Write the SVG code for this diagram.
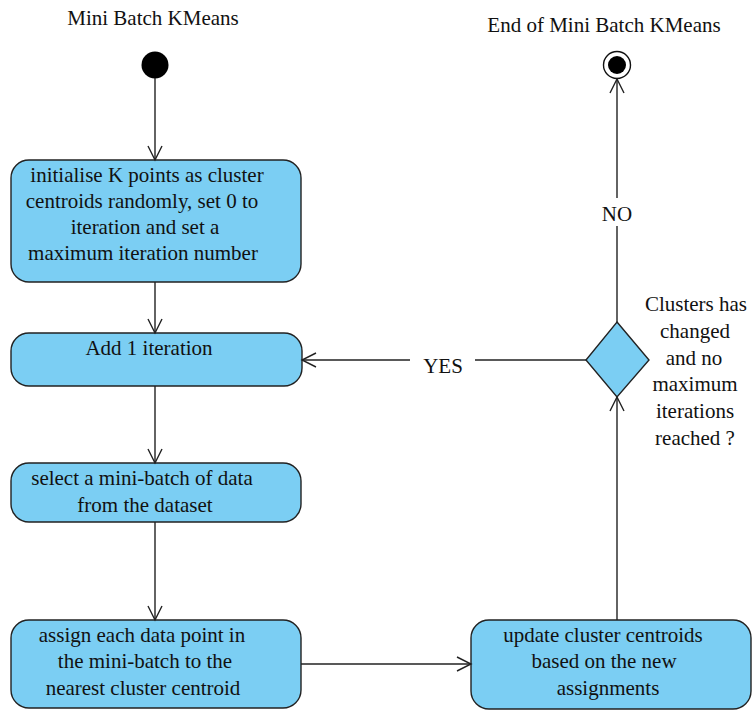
<svg xmlns="http://www.w3.org/2000/svg" width="752" height="711" viewBox="0 0 752 711">
  <defs>
    <style>
      .node { fill: #7bcef3; stroke: #222; stroke-width: 1.4; }
      .edge { fill: none; stroke: #222; stroke-width: 1.4; }
      text { font-family: 'Times New Roman', 'Liberation Serif', Tinos, serif; font-size: 21px; fill: #111; text-anchor: middle; }
    </style>
    <marker id="open-arrow" markerWidth="18" markerHeight="18" refX="15" refY="8" orient="auto" markerUnits="userSpaceOnUse">
      <path d="M1,1 L15,8 L1,15" fill="none" stroke="#222" stroke-width="1.4"/>
    </marker>
  </defs>
  <rect width="752" height="711" fill="#fff"/>

  <!-- start and end states -->
  <g id="start">
    <text x="153" y="25">Mini Batch KMeans</text>
    <circle cx="155" cy="65" r="13.5" fill="#000"/>
  </g>
  <g id="end">
    <text x="604" y="32">End of Mini Batch KMeans</text>
    <circle cx="617" cy="65" r="13.5" fill="#fff" stroke="#111" stroke-width="1.4"/>
    <circle cx="617" cy="65" r="9" fill="#000"/>
  </g>

  <!-- activities -->
  <g id="init">
    <rect class="node" x="11" y="160" width="290" height="122" rx="18"/>
    <text x="147" y="182">initialise K points as cluster</text>
    <text x="142" y="208">centroids randomly, set 0 to</text>
    <text x="145" y="234">iteration and set a</text>
    <text x="143" y="260">maximum iteration number</text>
  </g>
  <g id="add-iteration">
    <rect class="node" x="11" y="333" width="291" height="53" rx="18"/>
    <text x="149" y="355">Add 1 iteration</text>
  </g>
  <g id="select-batch">
    <rect class="node" x="11" y="463" width="290" height="59" rx="18"/>
    <text x="142" y="485">select a mini-batch of data</text>
    <text x="145" y="512">from the dataset</text>
  </g>
  <g id="assign">
    <rect class="node" x="11" y="620" width="290" height="88" rx="18"/>
    <text x="142" y="642">assign each data point in</text>
    <text x="145" y="668">the mini-batch to the</text>
    <text x="143" y="695">nearest cluster centroid</text>
  </g>
  <g id="update">
    <rect class="node" x="471" y="620" width="280" height="89" rx="18"/>
    <text x="603" y="642">update cluster centroids</text>
    <text x="604" y="668">based on the new</text>
    <text x="608" y="695">assignments</text>
  </g>

  <!-- decision -->
  <g id="decision">
    <polygon class="node" points="617,322 649,360 617,397 586,360"/>
    <text x="696" y="311">Clusters has</text>
    <text x="695" y="338">changed</text>
    <text x="694" y="365">and no</text>
    <text x="695" y="391">maximum</text>
    <text x="695" y="418">iterations</text>
    <text x="695" y="445">reached ?</text>
  </g>

  <!-- transitions -->
  <g id="connectors">
    <line class="edge" x1="155" y1="78" x2="155" y2="160" marker-end="url(#open-arrow)"/>
    <line class="edge" x1="155" y1="282" x2="155" y2="333" marker-end="url(#open-arrow)"/>
    <line class="edge" x1="155" y1="386" x2="155" y2="463" marker-end="url(#open-arrow)"/>
    <line class="edge" x1="155" y1="522" x2="155" y2="620" marker-end="url(#open-arrow)"/>
    <line class="edge" x1="301" y1="664" x2="471" y2="664" marker-end="url(#open-arrow)"/>
    <line class="edge" x1="617" y1="620" x2="617" y2="397" marker-end="url(#open-arrow)"/>
    <!-- YES branch -->
    <line class="edge" x1="586" y1="360" x2="475" y2="360"/>
    <line class="edge" x1="410" y1="360" x2="302" y2="360" marker-end="url(#open-arrow)"/>
    <text x="443" y="373">YES</text>
    <!-- NO branch -->
    <line class="edge" x1="617" y1="322" x2="617" y2="226"/>
    <line class="edge" x1="617" y1="198" x2="617" y2="79" marker-end="url(#open-arrow)"/>
    <text x="617" y="221">NO</text>
  </g>
</svg>
